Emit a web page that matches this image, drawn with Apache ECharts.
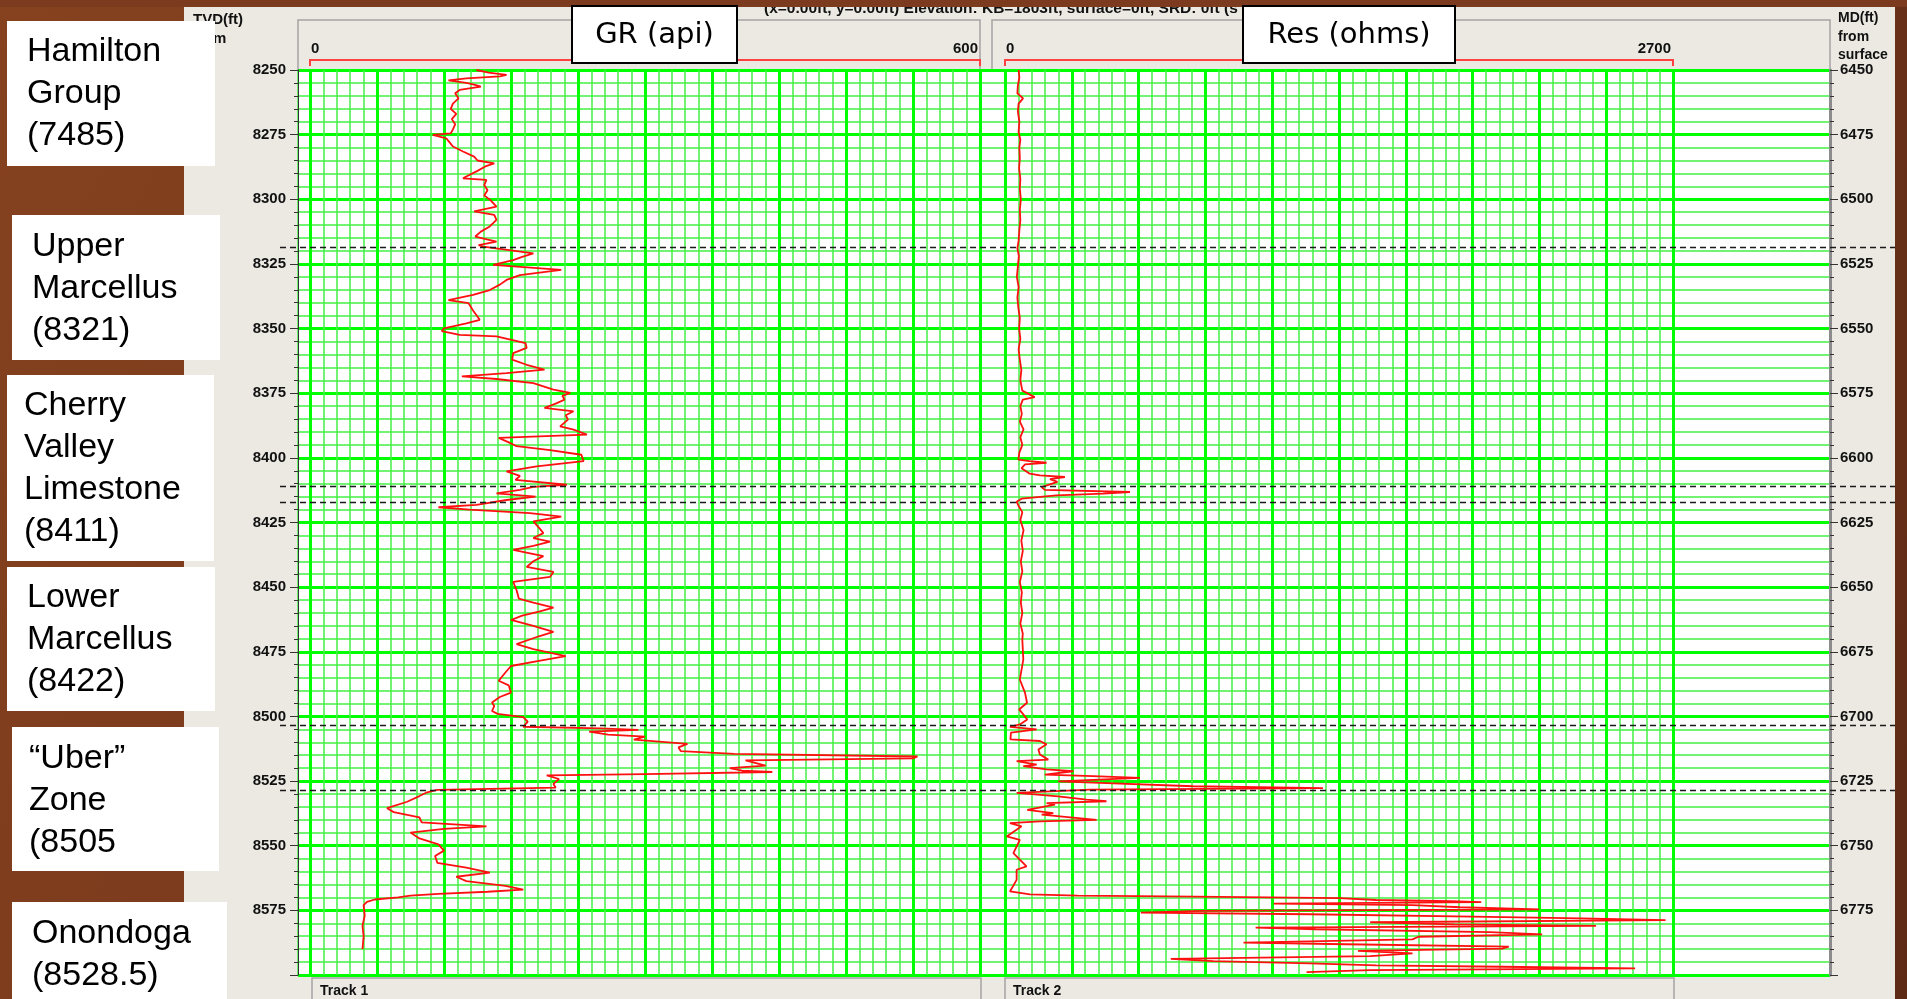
<!DOCTYPE html>
<html>
<head>
<meta charset="utf-8">
<title>Marcellus well log</title>
<script src="https://cdn.jsdelivr.net/npm/echarts/dist/echarts.min.js"></script>
<style>
  html, body { margin: 0; padding: 0; background: #7a3a1f; }
  #chart { width: 1907px; height: 999px; }
</style>
</head>
<body>
<div id="chart"></div>
<script>
  // depth scales (ft)
  const tvdRange = [8250, 8600];
  const mdRange = [6450, 6800];
  const depthStep = 25;

  // curve scales
  const grRange = [0, 600];
  const resRange = [0, 2700];

  // formation tops drawn as dashed lines (TVD ft)
  const topDepths = [8318.3, 8411, 8417, 8503.5, 8528.4];

  // formation labels on the left
  const formationLabels = [
    'Hamilton\nGroup\n(7485)',
    'Upper\nMarcellus\n(8321)',
    'Cherry\nValley\nLimestone\n(8411)',
    'Lower\nMarcellus\n(8422)',
    '\u201cUber\u201d\nZone\n(8505',
    'Onondoga\n(8528.5)'
  ];

  // GR log: [depth ft, api]
  const grLog = [
    [8250,149],[8251,160],[8251.9,176],[8252.5,170],[8253.2,140],[8254,124],[8255,140],[8255.7,147],
    [8256.4,153],[8257.7,134],[8259,130],[8261,133],[8263,128],[8265,126],[8267,131],[8269,127],
    [8271,130],[8273,128],[8274.5,126],[8275.1,110],[8276.4,122],[8278,125],[8279.6,128],[8281.5,137],
    [8283.5,147],[8285,150],[8286.1,165],[8287.3,157],[8289,150],[8291.2,140],[8291.9,137],[8292.5,158],
    [8294.5,156],[8296.5,159],[8298.5,156],[8300.5,162],[8302.8,167],[8304.7,147],[8306,165],[8308,167],
    [8310.5,161],[8312.5,153],[8314.4,148],[8316.4,167],[8317.7,151],[8318.3,155],[8320.9,200],[8322.3,190],
    [8323.5,182],[8325.4,164],[8327.3,225],[8329.3,188],[8331.2,176],[8333,170],[8335.1,161],[8337,146],
    [8339,124],[8340.2,142],[8343,146],[8346.6,152],[8348,140],[8349.9,120],[8351,118],[8352.4,134],
    [8353,167],[8355.6,193],[8357.5,194],[8359.5,182],[8362,181],[8364,194],[8365.9,210],[8367.2,176],
    [8368.5,136],[8369.5,167],[8371.1,200],[8373.6,218],[8374.9,233],[8376,226],[8377.5,228],[8379,220],
    [8380.7,210],[8382,236],[8383.5,229],[8385.2,231],[8387.8,224],[8389.1,236],[8391,248],[8392.3,169],
    [8394,178],[8395.5,185],[8397,215],[8398.8,243],[8401.3,245],[8403.3,203],[8405.2,176],[8407,188],
    [8408.5,184],[8410.4,230],[8411.2,200],[8412.4,188],[8413.7,167],[8415,202],[8416.3,176],[8418.2,149],
    [8419.1,115],[8420,143],[8421.4,197],[8422.7,225],[8424.6,200],[8427,205],[8429.1,209],[8431,200],
    [8432.4,215],[8434,200],[8435.6,182],[8438,209],[8440,200],[8442.2,194],[8444.1,218],[8446,215],
    [8448,182],[8451.2,185],[8454.4,187],[8456,200],[8457.9,218],[8459.5,205],[8461,190],[8462.7,180],
    [8465,200],[8467.3,218],[8469,205],[8472,185],[8474,200],[8476.7,229],[8478.5,205],[8480.5,180],
    [8483,175],[8486.2,169],[8488,178],[8490.8,180],[8492.5,170],[8494.6,163],[8496,165],[8497.9,163],
    [8499,168],[8500.3,191],[8502,195],[8504,191],[8504.6,260],[8505.2,294],[8505.9,250],[8507,267],
    [8507.8,300],[8509,290],[8510.6,338],[8512,330],[8513.4,332],[8514.5,380],[8515.5,544],[8516.2,540],
    [8517,390],[8519,408],[8520,376],[8521,387],[8521.5,414],[8522.3,300],[8522.8,212],[8524.2,223],
    [8526.1,218],[8527.5,220],[8528.4,114],[8529.5,104],[8530.8,98],[8533,87],[8535.5,69],[8537,75],
    [8539,98],[8541,100],[8542.5,158],[8543.5,120],[8544.9,90],[8547.2,98],[8549.5,115],[8551.9,120],
    [8554,112],[8556.6,114],[8558.5,140],[8560.4,161],[8562,131],[8563.7,140],[8565.5,175],[8567,191],
    [8567.8,159],[8568.6,115],[8569.3,90],[8570,79],[8570.8,58],[8571.7,51],[8573,48],[8577,49],
    [8581,47],[8585,48],[8590,47]
  ];

  // Resistivity log: [depth ft, ohms]
  const resLog = [
    [8250,55],[8253,58],[8256,52],[8259,50],[8261,73],[8263,55],[8266,52],[8270,58],[8274,55],[8277,62],
    [8280,58],[8284,60],[8288,57],[8292,62],[8296,60],[8300,64],[8304,60],[8308,62],[8312,58],[8316,55],
    [8319,50],[8322,56],[8326,52],[8330,48],[8334,55],[8338,50],[8342,54],[8346,60],[8350,57],[8354,62],
    [8358,55],[8362,60],[8366,66],[8370,62],[8374,70],[8376.5,120],[8377.5,72],[8380,62],[8383,68],[8386,60],
    [8389,75],[8392,62],[8395,70],[8398,58],[8400.7,54],[8401.3,100],[8401.9,168],[8402.5,81],[8404,67],
    [8406.1,100],[8406.8,141],[8407.4,242],[8408.2,182],[8409.3,212],[8411.3,148],[8412.4,161],[8413.2,505],
    [8413.8,397],[8414.5,208],[8415.8,67],[8417,47],[8418.4,54],[8421,70],[8424,62],[8428,75],[8432,66],
    [8436,72],[8440,64],[8444,70],[8448,60],[8452,68],[8456,64],[8460,70],[8464,62],[8468,72],[8470.3,70],
    [8478,74],[8485.7,60],[8490.9,81],[8494.7,89],[8497.3,57],[8499.2,74],[8501.2,90],[8503.1,60],[8504,20],
    [8505,128],[8506.3,24],[8508.9,22],[8509.5,141],[8510.8,168],[8512.8,135],[8514.7,141],[8516.7,175],
    [8517.3,47],[8518.6,128],[8519.2,74],[8520.5,168],[8521.2,276],[8522.5,161],[8523.1,356],[8523.8,545],
    [8525.1,215],[8525.7,383],[8527,760],[8527.7,1285],[8528.3,343],[8529.6,47],[8530.9,215],[8532.2,330],
    [8532.8,410],[8533.5,168],[8534.1,202],[8536.1,90],[8537.4,195],[8538,148],[8540,370],[8540.6,141],
    [8541.3,20],[8542.5,67],[8546.4,7],[8547.7,60],[8552.9,34],[8558,87],[8559.3,47],[8563.2,47],
    [8567.7,20],[8568.8,101],[8569.3,294],[8569.7,769],[8570.3,1352],[8571,1500],[8571.4,1804],[8571.8,1925],
    [8572.4,1086],[8573,1647],[8573.8,1840],[8574.6,2159],[8575.2,793],[8575.9,549],[8576.5,1231],[8577.4,1889],
    [8578.1,2329],[8578.8,2670],[8579.6,1476],[8580.4,1816],[8581,2389],[8581.7,1013],[8582.3,1255],[8583.4,1961],
    [8584.3,2171],[8585.2,1671],[8586.2,1647],[8587.5,964],[8588.1,1378],[8589,2036],[8589.8,2010],[8590.7,1427],
    [8591.6,1647],[8592.7,1476],[8593.8,670],[8594.6,842],[8595.5,1231],[8596.3,1500],[8596.8,2010],[8597.4,2547],
    [8598.1,1476],[8598.9,1219]
  ];

  // layout of the white label boxes: [x, y, w, h, textX, firstLineCenterY]
  const labelBoxes = [
    [7, 21, 208, 145, 27, 52],
    [12, 215, 208, 145, 32, 247],
    [7, 375, 207, 186, 24, 406],
    [7, 567, 208, 144, 27, 598],
    [12, 727, 207, 144, 29, 759],
    [12, 902, 215, 110, 32, 934]
  ];

  const panelColor = '#ece9e3';
  const minorLine = { color: '#46ef46', width: 1.5 };
  const majorLine = { color: '#00ff00', width: 3 };
  const tickFont = 'bold 15px "Liberation Sans", Arial, sans-serif';
  const plotTop = 70;
  const plotH = 905;

  const chart = echarts.init(document.getElementById('chart'));

  const hiddenAxis = {
    axisLine: { show: false },
    axisTick: { show: false },
    axisLabel: { show: false }
  };

  const curveX = (gridIndex, range, interval) => Object.assign({
    gridIndex: gridIndex,
    type: 'value',
    min: range[0],
    max: range[1],
    interval: interval,
    splitLine: { show: true, lineStyle: majorLine },
    minorTick: { show: false, splitNumber: 5 },
    minorSplitLine: { show: true, lineStyle: minorLine }
  }, hiddenAxis);

  const depthY = (gridIndex) => ({
    gridIndex: gridIndex,
    type: 'value',
    inverse: true,
    min: tvdRange[0],
    max: tvdRange[1],
    show: false
  });

  const depthLabel = {
    margin: 12, showMaxLabel: false,
    formatter: v => String(v),
    fontFamily: '"Liberation Sans", Arial, sans-serif', fontWeight: 'bold', fontSize: 15, color: '#111'
  };

  const option = {
    animation: false,
    grid: [
      { left: 298, top: plotTop, width: 1532, height: plotH, show: true, backgroundColor: '#fff', borderWidth: 0 },
      { left: 310, top: plotTop, width: 670, height: plotH },
      { left: 1005, top: plotTop, width: 668, height: plotH }
    ],
    xAxis: [
      Object.assign({
        gridIndex: 0, type: 'value', min: 0, max: 1, interval: 1,
        splitLine: { show: true, lineStyle: minorLine }
      }, hiddenAxis),
      curveX(1, grRange, 60),
      curveX(2, resRange, 270)
    ],
    yAxis: [
      {
        gridIndex: 0,
        type: 'value',
        inverse: true,
        position: 'left',
        min: tvdRange[0],
        max: tvdRange[1],
        interval: depthStep,
        axisLine: { show: true, lineStyle: { color: '#333', width: 1 } },
        axisTick: { show: true, length: 8, lineStyle: { color: '#333' } },
        minorTick: { show: true, splitNumber: 5, length: 4, lineStyle: { color: '#333' } },
        axisLabel: depthLabel,
        splitLine: { show: true, lineStyle: majorLine },
        minorSplitLine: { show: true, lineStyle: minorLine }
      },
      {
        gridIndex: 0,
        type: 'value',
        inverse: true,
        position: 'right',
        min: mdRange[0],
        max: mdRange[1],
        interval: depthStep,
        axisLine: { show: true, lineStyle: { color: '#8c8c8c', width: 3 } },
        axisTick: { show: true, length: 8, lineStyle: { color: '#333' } },
        minorTick: { show: true, splitNumber: 5, length: 4, lineStyle: { color: '#333' } },
        axisLabel: Object.assign({}, depthLabel, { margin: 10 }),
        splitLine: { show: false }
      },
      depthY(1),
      depthY(2)
    ],
    series: [
      {
        name: 'GR',
        type: 'line',
        xAxisIndex: 1,
        yAxisIndex: 2,
        data: grLog.map(p => [p[1], p[0]]),
        symbol: 'none',
        lineStyle: { color: '#ff1010', width: 1.8 },
        z: 3
      },
      {
        name: 'Res',
        type: 'line',
        xAxisIndex: 2,
        yAxisIndex: 3,
        data: resLog.map(p => [p[1], p[0]]),
        symbol: 'none',
        lineStyle: { color: '#ff1010', width: 1.8 },
        z: 3
      }
    ]
  };

  chart.setOption(option);

  // decorations placed with the chart's own scales
  const yOf = d => chart.convertToPixel({ yAxisIndex: 0 }, d);
  const grX = v => chart.convertToPixel({ xAxisIndex: 1 }, v);
  const resX = v => chart.convertToPixel({ xAxisIndex: 2 }, v);

  const graphics = [];

  // background and panel
  graphics.push({
    type: 'rect', z: -100, silent: true,
    shape: { x: 0, y: 0, width: 1907, height: 999 },
    style: {
      fill: new echarts.graphic.LinearGradient(0, 0, 1, 1, [
        { offset: 0, color: '#86421f' },
        { offset: 0.5, color: '#74361b' },
        { offset: 1, color: '#5e2a15' }
      ])
    }
  });
  graphics.push({
    type: 'rect', z: -90, silent: true,
    shape: { x: 184, y: 7, width: 1711, height: 1000 },
    style: { fill: panelColor }
  });

  // track header boxes
  graphics.push({
    type: 'rect', z: -80, silent: true,
    shape: { x: 298, y: 20, width: 682, height: plotTop - 20 },
    style: { fill: panelColor, stroke: '#a4a4a4', lineWidth: 1.5 }
  });
  graphics.push({
    type: 'rect', z: -80, silent: true,
    shape: { x: 992, y: 20, width: 838, height: plotTop - 20 },
    style: { fill: panelColor, stroke: '#a4a4a4', lineWidth: 1.5 }
  });

  // red scale brackets and scale values
  const bracket = (x0, x1) => ({
    type: 'polyline', z: 5, silent: true,
    shape: { points: [[x0, 66], [x0, 60], [x1, 60], [x1, 66]] },
    style: { stroke: '#ff4040', lineWidth: 2, fill: null }
  });
  graphics.push(bracket(grX(grRange[0]), grX(grRange[1])));
  graphics.push(bracket(resX(resRange[0]), resX(resRange[1])));
  const scaleText = (x, text, align) => ({
    type: 'text', z: 5, silent: true,
    style: { x: x, y: 49, text: text, font: tickFont, fill: '#111', align: align, verticalAlign: 'middle' }
  });
  graphics.push(scaleText(grX(grRange[0]) + 1, String(grRange[0]), 'left'));
  graphics.push(scaleText(grX(grRange[1]) - 2, String(grRange[1]), 'right'));
  graphics.push(scaleText(resX(resRange[0]) + 1, String(resRange[0]), 'left'));
  graphics.push(scaleText(resX(resRange[1]) - 2, String(resRange[1]), 'right'));

  // header texts
  graphics.push({
    type: 'text', z: 5, silent: true,
    style: {
      x: 764, y: 17, text: '(x=0.00ft, y=0.00ft) Elevation: KB=1803ft, surface=0ft, SRD: 0ft (s',
      font: 'bold 15.5px "Liberation Sans", Arial, sans-serif', fill: '#111', verticalAlign: 'bottom'
    }
  });
  graphics.push({
    type: 'text', z: 5, silent: true,
    style: { x: 193, y: 10, text: 'TVD(ft)\nfrom', font: tickFont, fill: '#111', lineHeight: 19, verticalAlign: 'top' }
  });
  graphics.push({
    type: 'text', z: 5, silent: true,
    style: { x: 1838, y: 9, text: 'MD(ft)\nfrom\nsurface', font: 'bold 14px "Liberation Sans", Arial, sans-serif', fill: '#111', lineHeight: 18.5, verticalAlign: 'top' }
  });
  graphics.push({
    type: 'rect', z: 60, silent: true,
    shape: { x: 0, y: 0, width: 1907, height: 7 },
    style: { fill: '#7c3a1e' }
  });

  // curve title boxes
  const titleBox = (x, w, text) => ([
    {
      type: 'rect', z: 100, silent: true,
      shape: { x: x, y: 6, width: w, height: 57 },
      style: { fill: '#fff', stroke: '#000', lineWidth: 2 }
    },
    {
      type: 'text', z: 101, silent: true,
      style: { x: x + w / 2, y: 35, text: text, font: '29px "DejaVu Sans", Verdana, sans-serif', fill: '#000', align: 'center', verticalAlign: 'middle' }
    }
  ]);
  graphics.push(...titleBox(572, 165, 'GR (api)'));
  graphics.push(...titleBox(1243, 212, 'Res (ohms)'));

  // track footers
  const footer = (x0, x1, text) => ([
    {
      type: 'rect', z: 5, silent: true,
      shape: { x: x0, y: 978, width: x1 - x0, height: 30 },
      style: { fill: panelColor, stroke: '#a4a4a4', lineWidth: 1.5 }
    },
    {
      type: 'text', z: 6, silent: true,
      style: { x: x0 + 8, y: 991, text: text, font: 'bold 14px "Liberation Sans", Arial, sans-serif', fill: '#111', verticalAlign: 'middle' }
    }
  ]);
  graphics.push(...footer(grX(grRange[0]) + 2, grX(grRange[1]) + 1, 'Track 1'));
  graphics.push(...footer(resX(resRange[0]), resX(resRange[1]) + 1, 'Track 2'));

  // formation tops
  topDepths.forEach(d => {
    const y = Math.round(yOf(d)) + 0.5;
    graphics.push({
      type: 'line', z: 50, silent: true,
      shape: { x1: 280, y1: y, x2: 1895, y2: y },
      style: { stroke: '#1a1a1a', lineWidth: 1.5, lineDash: [6, 4] }
    });
  });

  // formation labels
  formationLabels.forEach((label, i) => {
    const b = labelBoxes[i];
    graphics.push({
      type: 'rect', z: 100, silent: true,
      shape: { x: b[0], y: b[1], width: b[2], height: b[3] },
      style: { fill: '#fff' }
    });
    graphics.push({
      type: 'text', z: 101, silent: true,
      style: {
        x: b[4], y: b[5] - 21, text: label,
        font: '34px "Liberation Sans", Arial, sans-serif', fill: '#000',
        lineHeight: 42, verticalAlign: 'top'
      }
    });
  });

  chart.setOption({ graphic: graphics });
</script>
</body>
</html>
